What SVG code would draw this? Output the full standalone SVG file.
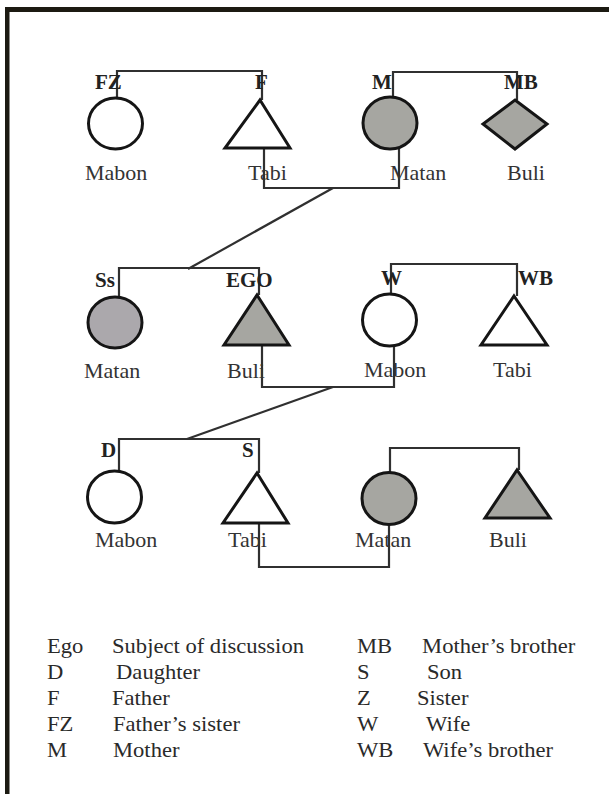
<svg xmlns="http://www.w3.org/2000/svg" width="609" height="794" viewBox="0 0 609 794">
<style>
.shape{stroke:#151515;stroke-width:3;stroke-linejoin:miter}
.open{fill:#ffffff}
.grey{fill:#a6a6a1}
.lav{fill:#aba8ac}
.conn{fill:none;stroke:#303030;stroke-width:2.2}
.lbl{font-family:"Liberation Serif","Times New Roman",serif;font-weight:bold;font-size:21px;fill:#222}
.name{font-family:"Liberation Serif","Times New Roman",serif;font-size:22px;fill:#333}
.leg{font-family:"Liberation Serif","Times New Roman",serif;font-size:20px;fill:#2a2a2a}
</style>
<rect x="0" y="0" width="609" height="794" fill="#ffffff"/>
<g id="frame">
<rect x="5" y="7" width="604" height="5" fill="#1c1a12"/>
<rect x="5" y="7" width="4.5" height="787" fill="#1c1a12"/>
</g>

<g id="connectors">
<polyline class="conn" points="117,98 117,71 262,71 262,100"/>
<polyline class="conn" points="393,97 393,72 517,72 517,100"/>
<polyline class="conn" points="264,148 264,188 399,188 399,149"/>
<line class="conn" x1="333" y1="188" x2="188" y2="269"/>
<polyline class="conn" points="119,297 119,268 259,268 259,295"/>
<polyline class="conn" points="391,294 391,264 517,264 517,296"/>
<polyline class="conn" points="262,345 262,387 394,387 394,346"/>
<line class="conn" x1="333" y1="387" x2="187" y2="439"/>
<polyline class="conn" points="119,471 119,439 259,439 259,473"/>
<polyline class="conn" points="390,473 390,448 519,448 519,470"/>
<polyline class="conn" points="259,523 259,567 389,567 389,524"/>
</g>

<g id="FZ">
<text class="lbl" x="95" y="89">FZ</text>
<ellipse class="shape open" cx="115.5" cy="123.5" rx="27" ry="25.5"/>
<text class="name" x="85" y="180">Mabon</text>
</g>
<g id="F">
<text class="lbl" x="255" y="89">F</text>
<polygon class="shape open" points="260,100 290,148 225,148"/>
<text class="name" x="248" y="180">Tabi</text>
</g>
<g id="M">
<text class="lbl" x="372" y="89">M</text>
<ellipse class="shape grey" cx="390" cy="123" rx="27" ry="26"/>
<text class="name" x="390" y="180">Matan</text>
</g>
<g id="MB">
<text class="lbl" x="504" y="89">MB</text>
<polygon class="shape grey" points="515,100 547,124 515,149 483,124"/>
<text class="name" x="507" y="180">Buli</text>
</g>

<g id="Ss">
<text class="lbl" x="95" y="287">Ss</text>
<ellipse class="shape lav" cx="115" cy="322.5" rx="27" ry="25.5"/>
<text class="name" x="84" y="378">Matan</text>
</g>
<g id="EGO">
<text class="lbl" x="226" y="287">EGO</text>
<polygon class="shape grey" points="257,295 289,345 224,345"/>
<text class="name" x="227" y="378">Buli</text>
</g>
<g id="W">
<text class="lbl" x="381" y="285">W</text>
<ellipse class="shape open" cx="389.5" cy="320" rx="27" ry="26"/>
<text class="name" x="364" y="377">Mabon</text>
</g>
<g id="WB">
<text class="lbl" x="518" y="285">WB</text>
<polygon class="shape open" points="514,296 547,345 481,345"/>
<text class="name" x="493" y="377">Tabi</text>
</g>

<g id="D">
<text class="lbl" x="101" y="457">D</text>
<ellipse class="shape open" cx="114.5" cy="497" rx="27" ry="26"/>
<text class="name" x="95" y="547">Mabon</text>
</g>
<g id="S">
<text class="lbl" x="242" y="457">S</text>
<polygon class="shape open" points="257,473 288,523 223,523"/>
<text class="name" x="228" y="547">Tabi</text>
</g>
<g id="Matan3">
<ellipse class="shape grey" cx="389" cy="498.5" rx="27" ry="26"/>
<text class="name" x="355" y="547">Matan</text>
</g>
<g id="Buli3">
<polygon class="shape grey" points="517,470 550,518 485,518"/>
<text class="name" x="489" y="547">Buli</text>
</g>

<g id="legend" transform="scale(1.13,1)">
<text class="leg" x="41.6" y="653">Ego</text>
<text class="leg" x="99.1" y="653">Subject of discussion</text>
<text class="leg" x="41.6" y="679">D</text>
<text class="leg" x="102.7" y="679">Daughter</text>
<text class="leg" x="41.6" y="705">F</text>
<text class="leg" x="99.1" y="705">Father</text>
<text class="leg" x="41.6" y="731">FZ</text>
<text class="leg" x="100" y="731">Father’s sister</text>
<text class="leg" x="41.6" y="757">M</text>
<text class="leg" x="100" y="757">Mother</text>
<text class="leg" x="315.9" y="653">MB</text>
<text class="leg" x="373.5" y="653">Mother’s brother</text>
<text class="leg" x="315.9" y="679">S</text>
<text class="leg" x="377.9" y="679">Son</text>
<text class="leg" x="315.9" y="705">Z</text>
<text class="leg" x="369" y="705">Sister</text>
<text class="leg" x="315.9" y="731">W</text>
<text class="leg" x="377" y="731">Wife</text>
<text class="leg" x="315.9" y="757">WB</text>
<text class="leg" x="374.3" y="757">Wife’s brother</text>
</g>
</svg>
